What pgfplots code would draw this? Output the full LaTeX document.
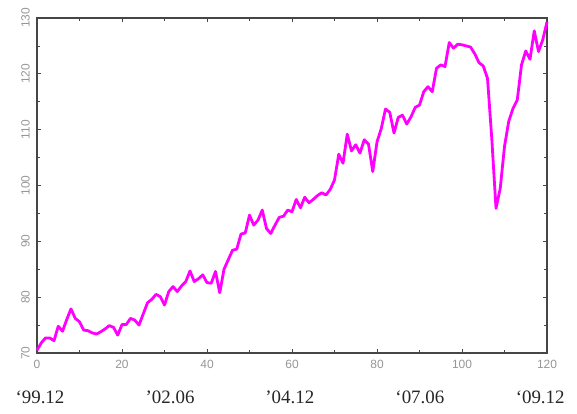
\documentclass[border=0pt]{standalone}
\usepackage{fontspec}
\setmainfont{Liberation Serif}
\setsansfont{Liberation Sans}
\usepackage{pgfplots}
\pgfplotsset{compat=1.18}
\definecolor{tickgray}{RGB}{150,150,150}
\definecolor{mag}{RGB}{255,0,255}
\definecolor{axgray}{RGB}{70,70,70}
\begin{document}
\begin{tikzpicture}
\begin{axis}[name=ax, scale only axis, width=510bp, height=335bp,
  xmin=0, xmax=120, ymin=70, ymax=130,
  xtick={0,20,...,120}, minor xtick={10,30,...,110},
  ytick={70,80,...,130}, minor ytick={75,85,...,125},
  tick align=inside, tick pos=both,
  major tick length=4bp, minor tick length=3bp,
  axis line style={line width=1.3bp, axgray},
  tick style={line width=0.8bp, axgray},
  /pgf/number format/assume math mode=true,
  ticklabel style={font=\sffamily\fontsize{12}{12}\selectfont, text=tickgray, inner sep=0pt},
  xticklabel shift=7bp,
  yticklabel style={rotate=90, anchor=south},
  yticklabel shift=7bp,
  clip=false]
\addplot[mag, line width=2.8bp, line join=round] coordinates {
(0,70.5) (1,71.8) (2,72.7) (3,72.7) (4,72.2) (5,74.8) (6,73.9) (7,76.0) (8,77.9) (9,76.2)
(10,75.6) (11,74.1) (12,74.0) (13,73.6) (14,73.4) (15,73.8) (16,74.3) (17,74.9) (18,74.6) (19,73.2)
(20,75.1) (21,75.1) (22,76.2) (23,75.9) (24,75.0) (25,77.0) (26,79.0) (27,79.6) (28,80.5) (29,80.1)
(30,78.6) (31,81.0) (32,81.9) (33,81.0) (34,82.0) (35,82.8) (36,84.7) (37,82.8) (38,83.3) (39,84.0)
(40,82.6) (41,82.5) (42,84.6) (43,80.8) (44,85.0) (45,86.7) (46,88.4) (47,88.6) (48,91.3) (49,91.5)
(50,94.7) (51,92.9) (52,93.8) (53,95.6) (54,92.3) (55,91.4) (56,92.9) (57,94.3) (58,94.5) (59,95.6)
(60,95.3) (61,97.5) (62,96.0) (63,97.9) (64,96.9) (65,97.5) (66,98.2) (67,98.7) (68,98.3) (69,99.3)
(70,101.0) (71,105.6) (72,104.0) (73,109.2) (74,106.2) (75,107.3) (76,105.8) (77,108.2) (78,107.4) (79,102.5)
(80,107.8) (81,110.2) (82,113.7) (83,113.1) (84,109.4) (85,112.2) (86,112.6) (87,111.0) (88,112.3) (89,114.0)
(90,114.4) (91,116.8) (92,117.7) (93,116.8) (94,121.0) (95,121.6) (96,121.3) (97,125.6) (98,124.6) (99,125.3)
(100,125.2) (101,125.0) (102,124.8) (103,123.6) (104,122.0) (105,121.4) (106,119.2) (107,108.5) (108,95.9) (109,99.5)
(110,107.0) (111,111.5) (112,113.8) (113,115.3) (114,121.6) (115,124.1) (116,122.6) (117,127.7) (118,124.0) (119,126.1)
(120,129.3)
};
\begin{scope}[every node/.style={anchor=base, font=\fontsize{19}{19}\selectfont, text=black!85, inner sep=0pt}]
\node at ([yshift=-50bp]axis cs:0.7,70) {‘99.12};
\node at ([yshift=-50bp]axis cs:31.3,70) {’02.06};
\node at ([yshift=-50bp]axis cs:59.5,70) {’04.12};
\node at ([yshift=-50bp]axis cs:90.1,70) {‘07.06};
\node at ([yshift=-50bp]axis cs:118.4,70) {‘09.12};
\end{scope}
\end{axis}
\pgfresetboundingbox
\useasboundingbox ([shift={(-37bp,-61bp)}]ax.south west) rectangle ([shift={(30bp,18bp)}]ax.north east);
\end{tikzpicture}
\end{document}
